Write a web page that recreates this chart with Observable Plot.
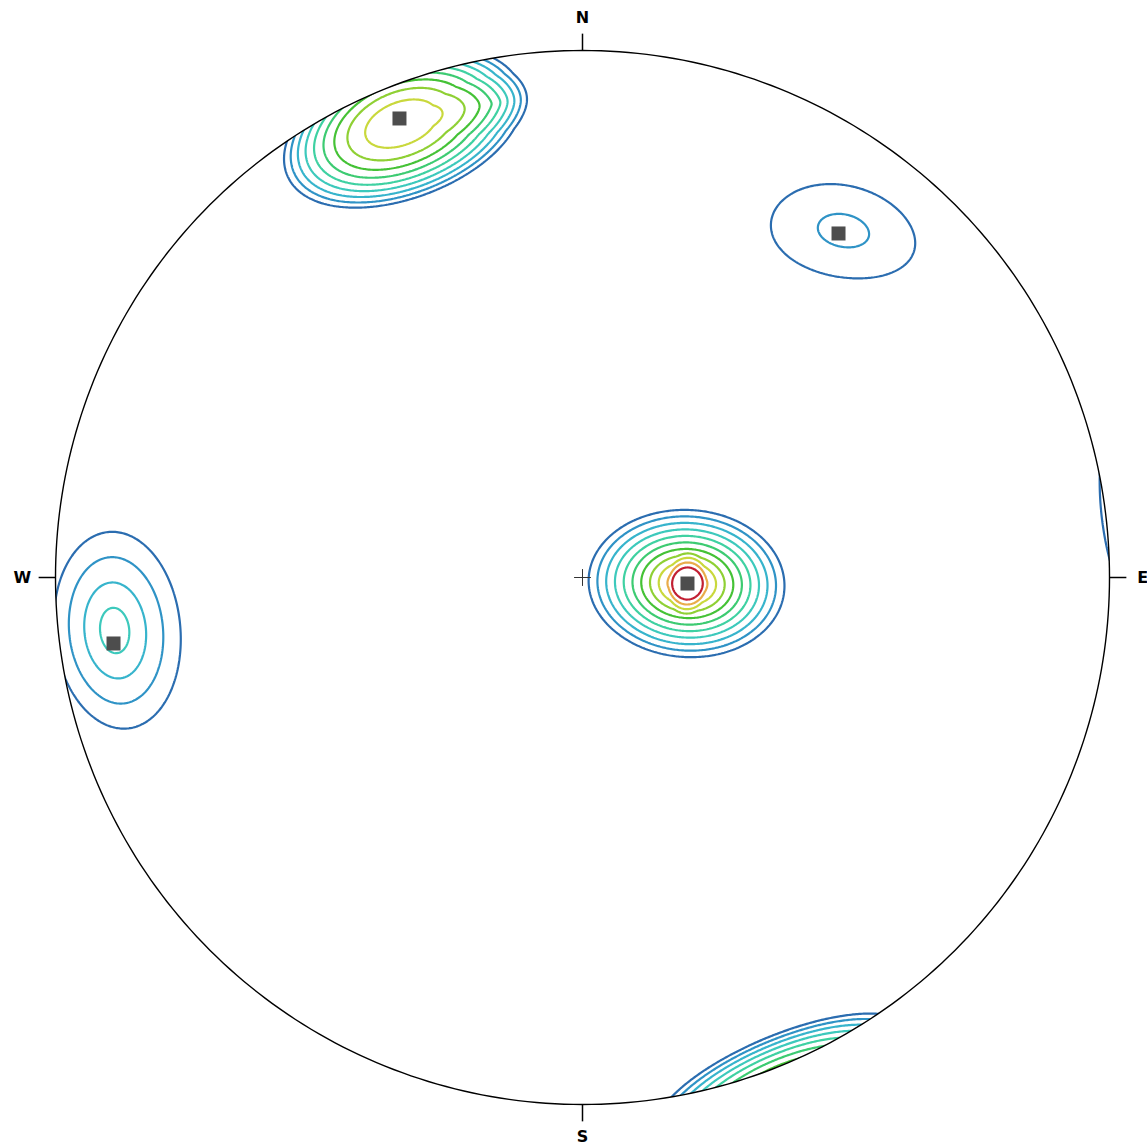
<!DOCTYPE html>
<html><head><meta charset="utf-8">
<script src="https://cdn.jsdelivr.net/npm/d3@7"></script>
<script src="https://cdn.jsdelivr.net/npm/@observablehq/plot@0.6"></script>
<style>html,body{margin:0;padding:0;background:#fff;} #chart svg{display:block}</style>
</head><body><div id="chart"></div>
<script>
// ---- contour levels and their colours ----
const levels = [1, 2, 3, 4, 5, 6, 7, 8, 9, 10, 11];
const levelColors = ["#2b6db0", "#2f93c6", "#37b4cc", "#3dc9bc", "#3fd1a2", "#3dcb72",
                     "#45c236", "#8fd034", "#c9d83c", "#e9ac4a", "#c21f32"];

// ---- density components (projected centre on unit net, angular half-widths in rad) ----
const compName       = ["central", "centralPeak", "north", "northLobe", "northeast", "west"];
const compX          = [0.1992, 0.1992, -0.3444, -0.1650, 0.4953, -0.8880];
const compY          = [-0.0114, -0.0114, 0.8620, 0.9000, 0.6584, -0.1006];
const compRadial     = [0.290, 0.050, 0.270, 0.100, 0.311, 0.275];
const compTangential = [0.213, 0.090, 0.265, 0.140, 0.210, 0.258];
const compTilt       = [0, 0, 42, 0, -34.8, 6];   // degrees, rotation of the ellipse axes
const compPeak       = [12.3, 1.5, 9.8, 1.2, 2.55, 4.9];
const compShape      = [1, 2, 2, 1, 1, 1];        // 1 = cone, 2 = dome

// ---- cluster mean poles (squares) ----
const poleX = [0.1992, -0.3473, 0.4858, -0.8899];
const poleY = [-0.0114, 0.8710, 0.6528, -0.1252];

// ---- compass ----
const dirLabels = ["N", "E", "S", "W"];
const dirAzimuth = [0, 90, 180, 270];
const crossArms = ["h", "v"];

const SQ2 = Math.SQRT2;
function toVec(x, y) {
  const r = Math.hypot(x, y);
  const th = 2 * Math.asin(Math.min(1, r / SQ2));
  const ph = Math.atan2(y, x);
  return [Math.sin(th) * Math.cos(ph), Math.sin(th) * Math.sin(ph), Math.cos(th), th, ph];
}
const comps = compX.map((cx, i) => {
  const [mx, my, mz, th, ph] = toVec(cx, compY[i]);
  const t = compTilt[i] * Math.PI / 180;
  return {
    m: [mx, my, mz],
    er: [Math.cos(th) * Math.cos(ph), Math.cos(th) * Math.sin(ph), -Math.sin(th)],
    et: [-Math.sin(ph), Math.cos(ph), 0],
    a: compRadial[i], b: compTangential[i],
    c: Math.cos(t), s: Math.sin(t), V: compPeak[i], e: compShape[i]
  };
});
function density(x, y) {
  if (Math.hypot(x, y) > 1.4) return 0;
  const v = toVec(x, y);
  let sum = 0;
  for (const c of comps) {
    let d = v[0] * c.m[0] + v[1] * c.m[1] + v[2] * c.m[2];
    const sg = d < 0 ? -1 : 1; d *= sg;
    const p = sg * (v[0] * c.er[0] + v[1] * c.er[1] + v[2] * c.er[2]);
    const q = sg * (v[0] * c.et[0] + v[1] * c.et[1] + v[2] * c.et[2]);
    const delta = Math.acos(Math.min(1, d));
    const n = Math.hypot(p, q);
    const d1 = n > 1e-12 ? delta * p / n : 0;
    const d2 = n > 1e-12 ? delta * q / n : 0;
    const r1 = d1 * c.c + d2 * c.s;
    const r2 = -d1 * c.s + d2 * c.c;
    const T = Math.hypot(r1 / c.a, r2 / c.b);
    const val = c.V * (1 - Math.pow(T, c.e));
    if (val > 0) sum += val;
  }
  return sum;
}

const W = 1147, H = 1147, CX = 582, CY = 577, R = 527;
const xDomain = [-CX / R, (W - CX) / R];
const yDomain = [-(H - CY) / R, CY / R];
const rad = (a) => a * Math.PI / 180;

const plot = Plot.plot({
  width: W, height: H, margin: 0,
  x: {domain: xDomain, axis: null},
  y: {domain: yDomain, axis: null},
  color: {type: "ordinal", domain: levels, range: levelColors},
  style: {background: "#fff"},
  marks: [
    Plot.contour({
      x1: -1.05, x2: 1.05, y1: -1.05, y2: 1.05,
      value: density, thresholds: levels,
      stroke: "value", fill: "none", strokeWidth: 2.2, pixelSize: 1.5
    }),
    Plot.line(d3.range(0, 361), {
      x: (a) => Math.cos(rad(a)), y: (a) => Math.sin(rad(a)),
      stroke: "#000", strokeWidth: 1.4
    }),
    Plot.link(dirAzimuth, {
      x1: (a) => Math.sin(rad(a)), y1: (a) => Math.cos(rad(a)),
      x2: (a) => 1.032 * Math.sin(rad(a)), y2: (a) => 1.032 * Math.cos(rad(a)),
      stroke: "#000", strokeWidth: 1.5
    }),
    Plot.text(dirLabels, {
      x: (d, i) => 1.063 * Math.sin(rad(dirAzimuth[i])),
      y: (d, i) => 1.062 * Math.cos(rad(dirAzimuth[i])),
      text: (d) => d, fontWeight: "bold", fontSize: 16, fontFamily: "DejaVu Sans", fill: "#000"
    }),
    Plot.link(crossArms, {
      x1: (d) => d === "h" ? -0.016 : 0, x2: (d) => d === "h" ? 0.016 : 0,
      y1: (d) => d === "v" ? -0.016 : 0, y2: (d) => d === "v" ? 0.016 : 0,
      stroke: "#333", strokeWidth: 1
    }),
    Plot.dot(poleX.map((x, i) => ({x, y: poleY[i]})), {
      x: "x", y: "y", symbol: "square", r: 7.9, fill: "#4d4d4d", stroke: "none"
    })
  ]
});

// clip contours to the primitive circle
const sx = plot.scale("x"), sy = plot.scale("y");
const cxp = sx.apply(0), cyp = sy.apply(0), rp = sx.apply(1) - cxp;
const ns = "http://www.w3.org/2000/svg";
const defs = document.createElementNS(ns, "defs");
const cp = document.createElementNS(ns, "clipPath");
cp.setAttribute("id", "netclip");
const circ = document.createElementNS(ns, "circle");
circ.setAttribute("cx", cxp); circ.setAttribute("cy", cyp); circ.setAttribute("r", rp);
cp.appendChild(circ); defs.appendChild(cp);
plot.insertBefore(defs, plot.firstChild);
const cg = plot.querySelector('g[aria-label="contour"]');
if (cg) cg.setAttribute("clip-path", "url(#netclip)");

document.getElementById("chart").appendChild(plot);
</script>
</body></html>
